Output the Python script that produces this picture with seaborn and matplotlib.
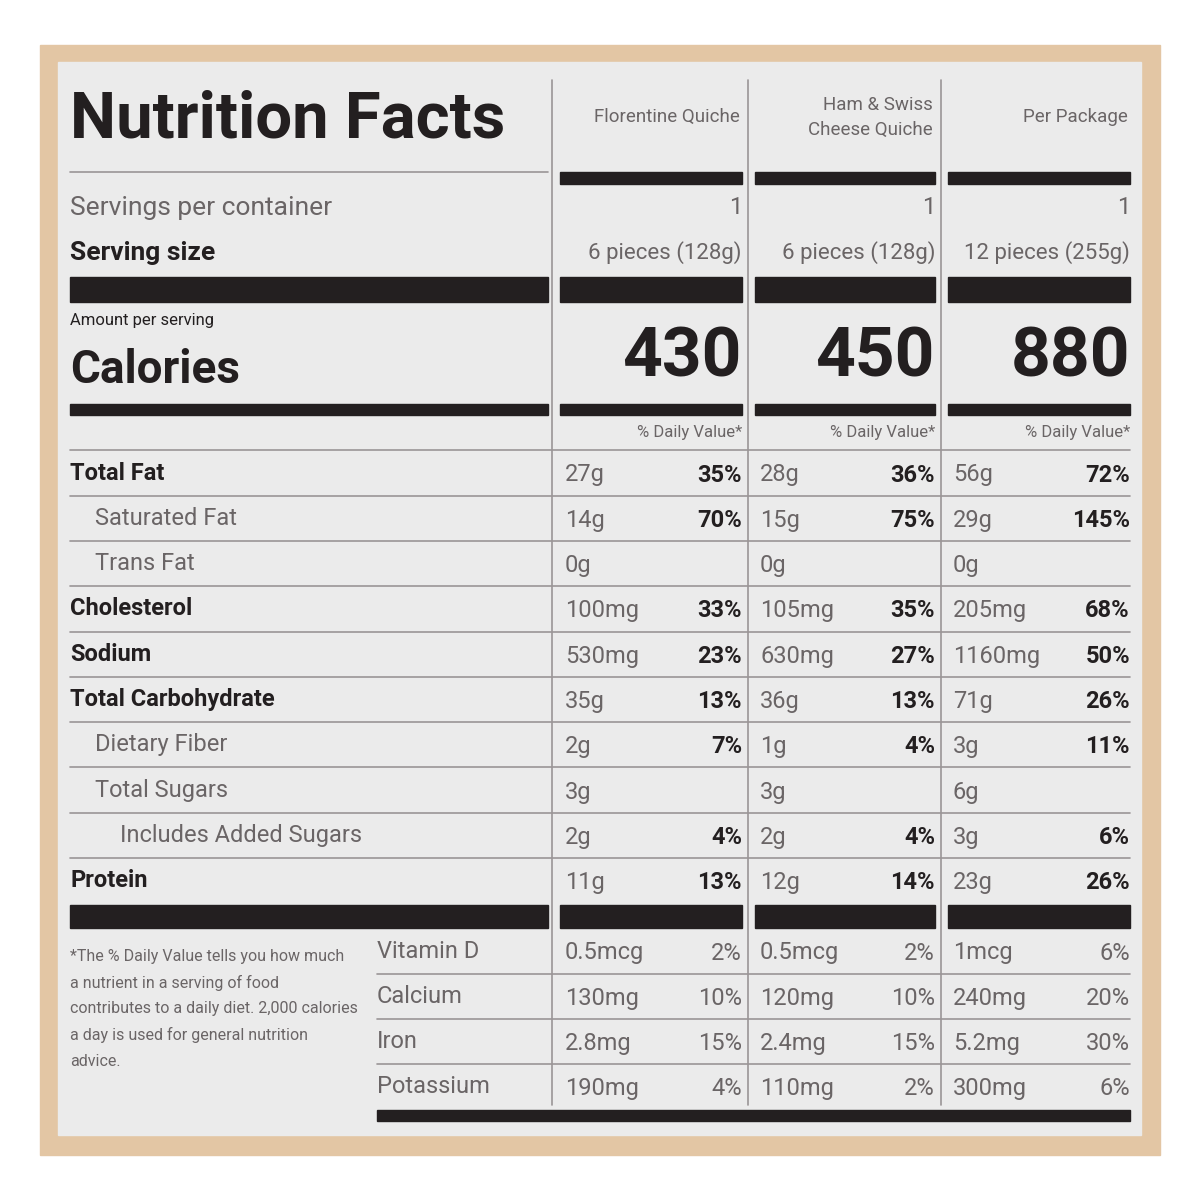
import numpy as np
import matplotlib.pyplot as plt
import seaborn as sns
from matplotlib.patches import Rectangle

# ---- data ----
columns = ['Florentine Quiche', 'Ham & Swiss\nCheese Quiche', 'Per Package']
servings = ['1', '1', '1']
serving_size = ['6 pieces (128g)', '6 pieces (128g)', '12 pieces (255g)']
calories = [430, 450, 880]

nutrients = ['Total Fat', 'Saturated Fat', 'Trans Fat', 'Cholesterol', 'Sodium',
             'Total Carbohydrate', 'Dietary Fiber', 'Total Sugars',
             'Includes Added Sugars', 'Protein']
indent = [0, 1, 1, 0, 0, 0, 1, 1, 2, 0]
amounts = [
    ['27g', '14g', '0g', '100mg', '530mg', '35g', '2g', '3g', '2g', '11g'],
    ['28g', '15g', '0g', '105mg', '630mg', '36g', '1g', '3g', '2g', '12g'],
    ['56g', '29g', '0g', '205mg', '1160mg', '71g', '3g', '6g', '3g', '23g'],
]
daily = [
    ['35%', '70%', '', '33%', '23%', '13%', '7%', '', '4%', '13%'],
    ['36%', '75%', '', '35%', '27%', '13%', '4%', '', '4%', '14%'],
    ['72%', '145%', '', '68%', '50%', '26%', '11%', '', '6%', '26%'],
]

vitamins = ['Vitamin D', 'Calcium', 'Iron', 'Potassium']
vit_amounts = [
    ['0.5mcg', '130mg', '2.8mg', '190mg'],
    ['0.5mcg', '120mg', '2.4mg', '110mg'],
    ['1mcg', '240mg', '5.2mg', '300mg'],
]
vit_daily = [
    ['2%', '10%', '15%', '4%'],
    ['2%', '10%', '15%', '2%'],
    ['6%', '20%', '30%', '6%'],
]
footnote = ['*The % Daily Value tells you how much', 'a nutrient in a serving of food',
            'contributes to a daily diet. 2,000 calories', 'a day is used for general nutrition',
            'advice.']

# ---- style ----
sns.set_theme(style='white')
plt.rcParams['font.family'] = ['Liberation Sans Narrow', 'Roboto', 'DejaVu Sans']
INK = '#231f20'
GRAY = '#6a6566'

fig = plt.figure(figsize=(12, 12), dpi=100)
ax = fig.add_axes([0, 0, 1, 1])
ax.set_xlim(0, 1200)
ax.set_ylim(1200, 0)
ax.axis('off')

ax.add_patch(Rectangle((40, 45), 1120, 1110, color='#e3c6a4', zorder=0))
ax.add_patch(Rectangle((58, 62), 1083, 1073, color='#ebebeb', zorder=1))

col_l = [560, 755, 948]
col_r = [742, 935, 1130]

def bar(x0, x1, y0, y1):
    ax.add_patch(Rectangle((x0, y0), x1 - x0, y1 - y0, color=INK, zorder=3))

def line(x0, x1, y, lw=1.2, c='#9a9596'):
    ax.plot([x0, x1], [y, y], color=c, lw=lw, zorder=3)

# vertical separators
for x in [552, 748, 941]:
    ax.plot([x, x], [80, 1105], color='#9a9596', lw=1.2, zorder=2)

ax.text(70, 120, 'Nutrition Facts', fontsize=47, fontweight='bold', color=INK,
        va='center', ha='left', zorder=4)
line(70, 548, 172)

for i, c in enumerate(columns):
    ax.text(col_r[i] - 2, 117, c, fontsize=13.5, color=GRAY, ha='right', va='center',
            multialignment='right', linespacing=1.5, zorder=4)
    bar(col_l[i], col_r[i], 172, 184)
    ax.text(col_r[i], 208, servings[i], fontsize=17, color=GRAY, ha='right', va='center', zorder=4)
    ax.text(col_r[i], 253, serving_size[i], fontsize=16, color=GRAY, ha='right', va='center', zorder=4)
    bar(col_l[i], col_r[i], 277, 302)
    ax.text(col_r[i], 358, str(calories[i]), fontsize=50, fontweight='bold', color=INK,
            ha='right', va='center', zorder=4)
    bar(col_l[i], col_r[i], 404, 415)
    ax.text(col_r[i], 433, '% Daily Value*', fontsize=12, color=GRAY, ha='right', va='center', zorder=4)
    bar(col_l[i], col_r[i], 905, 928)

ax.text(70, 208, 'Servings per container', fontsize=19, color=GRAY, va='center', zorder=4)
ax.text(70, 253, 'Serving size', fontsize=19, fontweight='bold', color=INK, va='center', zorder=4)
bar(70, 548, 277, 302)
ax.text(70, 320, 'Amount per serving', fontsize=12, color=INK, va='center', zorder=4)
ax.text(70, 370, 'Calories', fontsize=33, fontweight='bold', color=INK, va='center', zorder=4)
bar(70, 548, 404, 415)
line(70, 1130, 450)

row0, step = 473, 45.3
for j, name in enumerate(nutrients):
    y = row0 + j * step
    bold = indent[j] == 0
    ax.text(70 + 25 * indent[j], y, name, fontsize=17,
            fontweight='bold' if bold else 'normal', color=INK if bold else GRAY,
            va='center', zorder=4)
    for i in range(3):
        ax.text(col_l[i] + 5, y + 2, amounts[i][j], fontsize=17, color=GRAY, va='center', zorder=4)
        ax.text(col_r[i], y + 2, daily[i][j], fontsize=17, fontweight='bold', color=INK,
                ha='right', va='center', zorder=4)
    if j < len(nutrients) - 1:
        line(70, 1130, y + step / 2)
bar(70, 548, 905, 928)

for j, name in enumerate(vitamins):
    y = 951 + j * 45.3
    ax.text(377, y, name, fontsize=17, color=GRAY, va='center', zorder=4)
    for i in range(3):
        ax.text(col_l[i] + 5, y + 2, vit_amounts[i][j], fontsize=17, color=GRAY, va='center', zorder=4)
        ax.text(col_r[i], y + 2, vit_daily[i][j], fontsize=17, color=GRAY,
                ha='right', va='center', zorder=4)
    if j < len(vitamins) - 1:
        line(377, 1130, y + 22.6)
bar(377, 1130, 1110, 1121)

for k, t in enumerate(footnote):
    ax.text(70, 957 + k * 26, t, fontsize=11.5, color=GRAY, va='center', zorder=4)

fig.savefig('out.png', dpi=100, facecolor='white')
